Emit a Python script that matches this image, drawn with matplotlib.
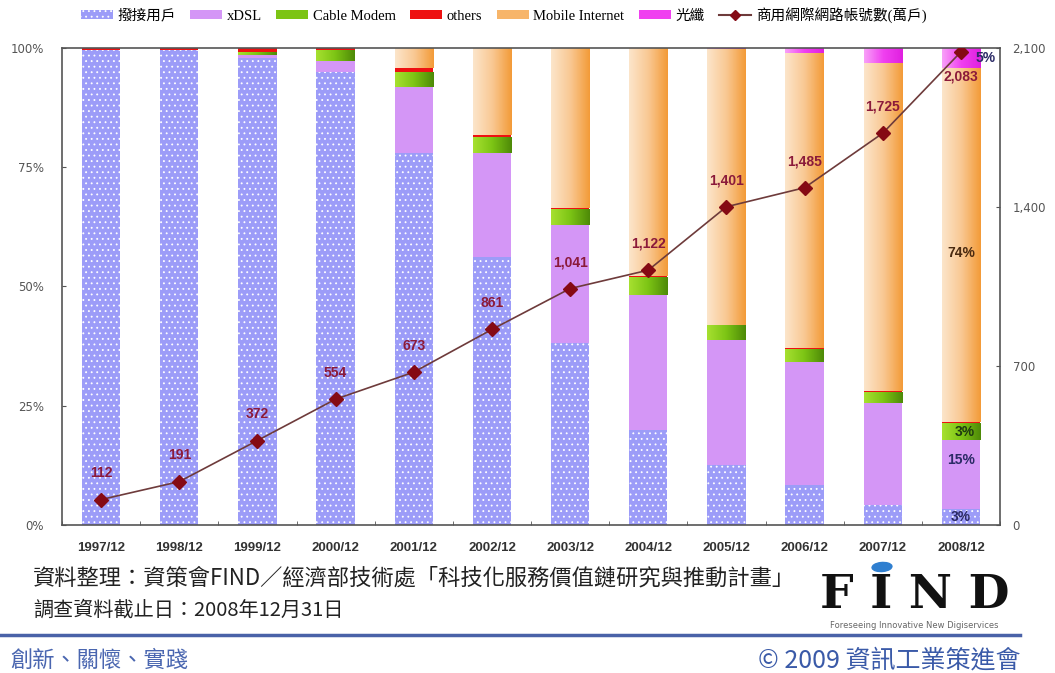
import numpy as np
import matplotlib.pyplot as plt
from matplotlib.lines import Line2D
from matplotlib.patches import Patch, Ellipse
from matplotlib.colors import LinearSegmentedColormap
from matplotlib.ticker import PercentFormatter, FuncFormatter

plt.rcParams['font.family'] = ['DejaVu Sans', 'Noto Sans CJK TC']
plt.rcParams['hatch.linewidth'] = 0.6

# %%
# Share of each access type (%), and total accounts (10k)
years = ['1997/12', '1998/12', '1999/12', '2000/12', '2001/12', '2002/12',
         '2003/12', '2004/12', '2005/12', '2006/12', '2007/12', '2008/12']
dialup = [99.6, 99.5, 98.0, 95.0, 78.0, 56.2, 38.1, 19.9, 12.6, 8.4, 4.2, 3.4]
xdsl = [0.0, 0.1, 0.5, 2.3, 13.8, 21.7, 24.8, 28.3, 26.2, 25.8, 21.3, 14.4]
cable = [0.0, 0.0, 0.7, 2.2, 3.1, 3.5, 3.3, 3.8, 3.1, 2.8, 2.4, 3.6]
others = [0.4, 0.4, 0.8, 0.5, 0.8, 0.4, 0.3, 0.1, 0.1, 0.1, 0.1, 0.1]
mobile = [0.0, 0.0, 0.0, 0.0, 4.3, 18.2, 33.5, 47.9, 57.7, 61.9, 68.8, 74.3]
fiber = [0.0, 0.0, 0.0, 0.0, 0.0, 0.0, 0.0, 0.0, 0.3, 1.0, 3.2, 4.2]
accounts = [112, 191, 372, 554, 673, 861, 1041, 1122, 1401, 1485, 1725, 2083]
labels_2008 = {'dialup': '3%', 'xdsl': '15%', 'cable': '3%', 'mobile': '74%', 'fiber': '5%'}

series_names = ['撥接用戶', 'xDSL', 'Cable Modem', 'others', 'Mobile Internet', '光纖']
line_name = '商用網際網路帳號數(萬戶)'

# %%
fig = plt.figure(figsize=(10.55, 6.73), dpi=100)
ax = fig.add_axes([0.0588, 0.2199, 0.8891, 0.7088])
x = np.arange(len(years))
w = 0.49


def shade(bars, colors):
    # horizontal gradient clipped to each bar
    cmap = LinearSegmentedColormap.from_list('g', colors)
    grad = np.linspace(0, 1, 64).reshape(1, -1)
    for b in bars:
        if b.get_height() <= 0:
            continue
        x0, y0 = b.get_x(), b.get_y()
        im = ax.imshow(grad, cmap=cmap, aspect='auto', interpolation='bilinear',
                       extent=[x0, x0 + b.get_width(), y0, y0 + b.get_height()],
                       zorder=2.1)
        im.set_clip_path(b)


bottom = np.zeros(len(years))
b_dial = ax.bar(x, dialup, w, bottom=bottom, color='#9C9CF8', edgecolor='white',
                linewidth=0, hatch='...', zorder=2)
bottom += dialup
b_xdsl = ax.bar(x, xdsl, w, bottom=bottom, color='#D496F6', linewidth=0, zorder=2)
bottom += xdsl
b_cab = ax.bar(x, cable, w, bottom=bottom, color='#7CC414', linewidth=0, zorder=2)
shade(b_cab, ['#A6E030', '#7CC414', '#4E8A08'])
bottom += cable
b_oth = ax.bar(x, others, w, bottom=bottom, color='#EE1111', linewidth=0, zorder=2)
bottom += others
b_mob = ax.bar(x, mobile, w, bottom=bottom, color='#F7B56A', linewidth=0, zorder=2)
shade(b_mob, ['#FCE5CA', '#F9C893', '#F39B38'])
bottom += mobile
b_fib = ax.bar(x, fiber, w, bottom=bottom, color='#F040F0', linewidth=0, zorder=2)
shade(b_fib, ['#F8A0F8', '#F040F0', '#E020E0'])

ax.set_xlim(-0.5, len(years) - 0.5)
ax.set_ylim(0, 100)
ax.set_yticks([0, 25, 50, 75, 100])
ax.yaxis.set_major_formatter(PercentFormatter(decimals=0))
ax.set_xticks(x)
ax.set_xticklabels(years, fontfamily='Liberation Sans', fontweight='bold',
                   fontsize=9.5, color='#333333')
ax.set_xticks(np.arange(-0.5, len(years), 1), minor=True)
ax.tick_params(axis='x', which='major', length=0, pad=12)
ax.tick_params(axis='x', which='minor', direction='in', length=3, color='#555555')
ax.tick_params(axis='y', direction='in', length=3, labelsize=8.5,
               labelcolor='#555555', color='#555555', pad=13)
for s in ax.spines.values():
    s.set_color('#555555')
    s.set_linewidth(1.2)

# line on secondary axis
ax2 = ax.twinx()
ax2.plot(x, accounts, color='#6E3B3B', linewidth=1.2, marker='D', markersize=7,
         markerfacecolor='#850A14', markeredgecolor='#850A14', zorder=5)
ax2.set_ylim(0, 2100)
ax2.set_yticks([0, 700, 1400, 2100])
ax2.yaxis.set_major_formatter(FuncFormatter(lambda v, p: f'{int(v):,}'))
ax2.tick_params(axis='y', direction='in', length=3, labelsize=8.5,
                labelcolor='#555555', color='#555555', pad=9)
for s in ax2.spines.values():
    s.set_visible(False)

for i, v in enumerate(accounts):
    dy = -18 if i == len(accounts) - 1 else 19
    ax2.annotate(f'{v:,}', (x[i], v), xytext=(0, dy), textcoords='offset points',
                 ha='center', va='center', fontsize=10, fontweight='bold',
                 color='#8B1A3A', fontfamily='Liberation Sans', zorder=6)

# share labels on the last bar
i = len(years) - 1
lab_kw = dict(ha='center', va='center', fontsize=10, fontweight='bold',
              fontfamily='Liberation Sans', zorder=6)
ax.text(x[i], dialup[i] / 2, labels_2008['dialup'], color='#2B2A66', **lab_kw)
ax.text(x[i], dialup[i] + xdsl[i] / 2 + 3, labels_2008['xdsl'], color='#2B2A66', **lab_kw)
ax.text(x[i] + 0.05, dialup[i] + xdsl[i] + cable[i] / 2, labels_2008['cable'],
        color='#1E3A10', **lab_kw)
ax.text(x[i], 57, labels_2008['mobile'], color='#4A2A10', **lab_kw)
ax.text(x[i] + 0.32, 97.9, labels_2008['fiber'], color='#2B2A66', **lab_kw)

# legend across the top
handles = [
    Patch(facecolor='#9C9CF8', edgecolor='white', linewidth=0, hatch='...'),
    Patch(facecolor='#D496F6'),
    Patch(facecolor='#7CC414'),
    Patch(facecolor='#EE1111'),
    Patch(facecolor='#F7B56A'),
    Patch(facecolor='#F040F0'),
    Line2D([], [], color='#6E3B3B', marker='D', markersize=5,
           markerfacecolor='#850A14', markeredgecolor='#850A14'),
]
fig.legend(handles, series_names + [line_name], ncol=7, loc='center left',
           bbox_to_anchor=(0.064, 1 - 15 / 673), frameon=False,
           prop={'family': ['Liberation Serif', 'Noto Sans CJK TC'], 'size': 10.5},
           handlelength=2.2, handleheight=0.5, columnspacing=1.0, handletextpad=0.3)

# footer text
txt_font = ['Noto Sans CJK TC', 'DejaVu Sans']
fig.text(33 / 1055, 1 - 578 / 673, '資料整理：資策會FIND／經濟部技術處「科技化服務價值鏈研究與推動計畫」',
         fontsize=16, family=txt_font, color='#222222', va='center')
fig.text(33 / 1055, 1 - 610 / 673, '調查資料截止日：2008年12月31日',
         fontsize=14.5, family=txt_font, color='#222222', va='center')
fig.add_artist(Line2D([0, 1020 / 1055], [1 - 635 / 673] * 2, color='#4A62A8',
                      linewidth=2.5, transform=fig.transFigure))
fig.text(10 / 1055, 1 - 660 / 673, '創新、關懷、實踐', fontsize=16, family=txt_font,
         color='#4A66B0', va='center')
fig.text(1020 / 1055, 1 - 660 / 673, '© 2009 資訊工業策進會', fontsize=18,
         family=txt_font, color='#3A5AA8', va='center', ha='right')

# logo
fig.text(915 / 1055, 1 - 595 / 673, 'F I N D', fontsize=34, family='DejaVu Serif',
         fontweight='bold', color='#111111', va='center', ha='center')
fig.text(914 / 1055, 1 - 625 / 673, 'Foreseeing Innovative New Digiservices',
         fontsize=6, color='#666666', va='center', ha='center')
fig.add_artist(Ellipse((882 / 1055, 1 - 567 / 673), 20 / 1055, 9 / 673, angle=10,
                       color='#2F7FD0', transform=fig.transFigure))

fig.savefig('out.png', dpi=100)
